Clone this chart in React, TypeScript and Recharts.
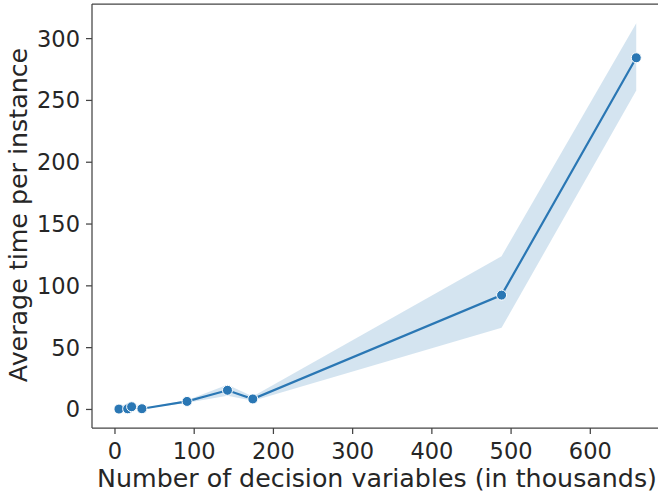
import React from 'react';
import {
  ComposedChart,
  Line,
  Area,
  XAxis,
  YAxis,
  ReferenceLine,
} from 'recharts';

// decision variables (thousands)
const sizes = [5, 16, 21, 34, 91, 142, 174, 488, 658];
// mean time per instance
const meanTimes = [0.3, 0.5, 2.2, 0.6, 6.5, 15.5, 8.5, 92.5, 284.5];
// confidence band
const lowTimes = [0, 0.2, 1.5, 0.3, 5.5, 11, 7, 66, 258];
const highTimes = [0.6, 0.8, 2.9, 0.9, 7.5, 20, 10.5, 124, 312.5];

const xTicks = [0, 100, 200, 300, 400, 500, 600];
const yTicks = [0, 50, 100, 150, 200, 250, 300];

const data = sizes.map((x, i) => ({
  x,
  mean: meanTimes[i],
  band: [lowTimes[i], highTimes[i]],
}));

const BLUE = '#2a77b4';
const TEXT = '#262626';
const FRAME = '#444444';
const FONT = '"DejaVu Sans", sans-serif';
const X_DOMAIN: [number, number] = [-29, 690.5];
const Y_DOMAIN: [number, number] = [-15, 328];

const XLabel = () => (
  <text x={377} y={487} textAnchor="middle" fill={TEXT} fontSize={25.3} fontFamily={FONT}>
    Number of decision variables (in thousands)
  </text>
);

const YLabel = () => (
  <text
    x={0}
    y={0}
    transform="translate(27, 215) rotate(-90)"
    textAnchor="middle"
    fill={TEXT}
    fontSize={25.3}
    fontFamily={FONT}
  >
    Average time per instance
  </text>
);

const App: React.FC = () => {
  return (
    <div
      style={{
        position: 'absolute',
        left: 0,
        top: 0,
        width: 658,
        height: 496,
        overflow: 'hidden',
        background: '#fff',
        fontFamily: FONT,
      }}
    >
      <ComposedChart
        width={670}
        height={496}
        data={data}
        margin={{ top: 4, right: 8, left: 0, bottom: 0 }}
      >
        <XAxis
          dataKey="x"
          type="number"
          domain={X_DOMAIN}
          allowDataOverflow
          ticks={xTicks}
          height={68}
          tickSize={6}
          tickMargin={9}
          stroke={FRAME}
          strokeWidth={1.25}
          tick={{ fill: TEXT, fontSize: 22.5, fontFamily: FONT }}
          label={{ content: XLabel }}
        />
        <YAxis
          type="number"
          domain={Y_DOMAIN}
          allowDataOverflow
          ticks={yTicks}
          width={92}
          tickSize={6}
          tickMargin={6}
          stroke={FRAME}
          strokeWidth={1.25}
          tick={{ fill: TEXT, fontSize: 22.5, fontFamily: FONT }}
          label={{ content: YLabel }}
        />
        <ReferenceLine y={Y_DOMAIN[1]} stroke={FRAME} strokeWidth={1.25} />
        <Area
          dataKey="band"
          type="linear"
          stroke="none"
          fill={BLUE}
          fillOpacity={0.2}
          isAnimationActive={false}
          activeDot={false}
        />
        <Line
          dataKey="mean"
          type="linear"
          stroke={BLUE}
          strokeWidth={2.2}
          dot={{ r: 5, fill: BLUE, stroke: '#fff', strokeWidth: 1 }}
          activeDot={false}
          isAnimationActive={false}
        />
      </ComposedChart>
    </div>
  );
};

export default App;
